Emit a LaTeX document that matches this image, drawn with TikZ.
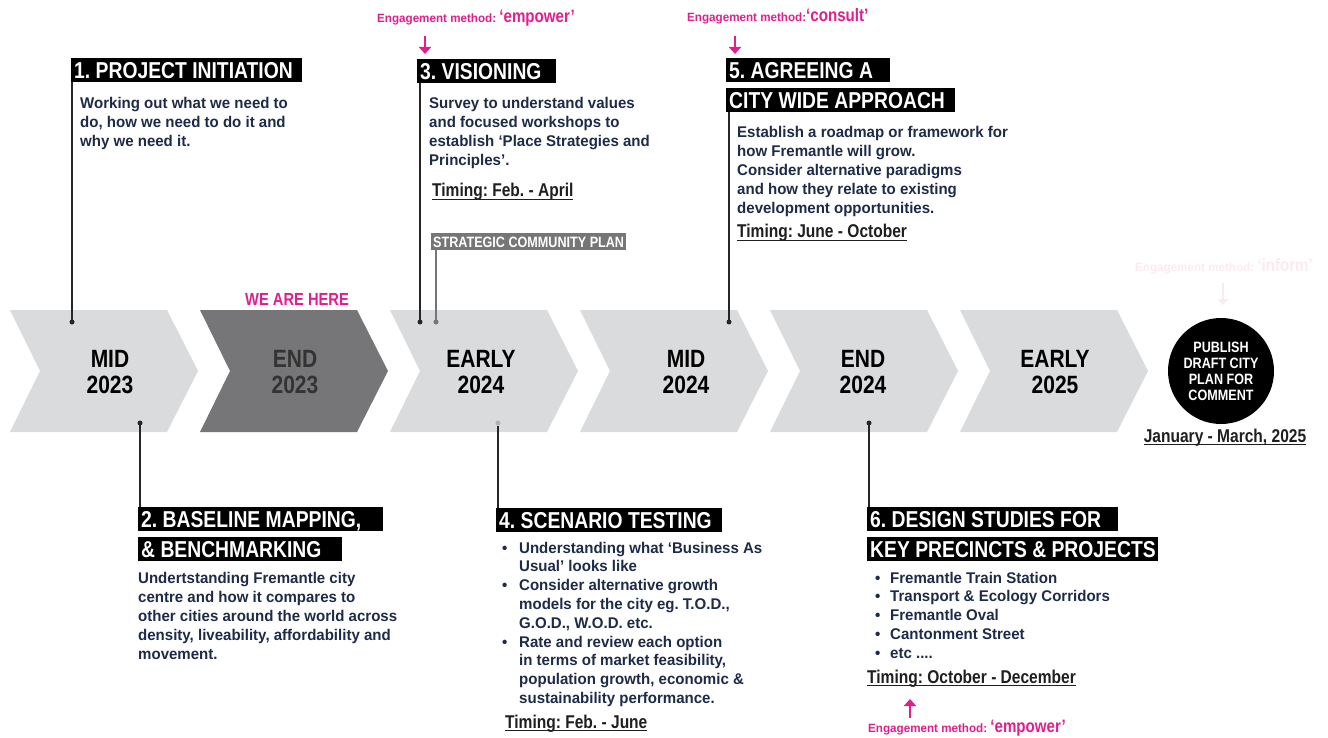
\documentclass[tikz,border=0pt]{standalone}
\usepackage{fontspec}
\setmainfont{Liberation Sans}
\newfontfamily\bodyf{Liberation Sans Bold}[FakeStretch=0.97]
\newfontfamily\condf{Liberation Sans Bold}[FakeStretch=0.84]
\newfontfamily\chevf{Liberation Sans Bold}[FakeStretch=0.84]
\usetikzlibrary{arrows.meta}
\frenchspacing
\definecolor{navy}{RGB}{30,43,72}
\definecolor{pinkc}{RGB}{226,30,140}
\definecolor{pinkfaint}{RGB}{252,234,242}
\definecolor{chevlight}{RGB}{218,219,221}
\definecolor{chevdark}{RGB}{118,118,120}
\definecolor{scpgray}{RGB}{118,118,118}
\newcommand\uline[1]{\setbox0\hbox{#1}\rlap{\rule[-3pt]{\wd0}{1.5pt}}\box0}
\tikzset{
  hdr/.style={fill=black, text=white, font=\condf\fontsize{23}{24}\selectfont,
    inner xsep=3pt, inner ysep=0pt, minimum height=24pt, text height=16.5pt,
    text depth=0pt, anchor=north west},
  body/.style={text=navy, font=\bodyf\fontsize{15.5}{19}\selectfont, inner sep=0pt,
    anchor=north west, align=left},
  blist/.style={text=navy, font=\bodyf\fontsize{15.5}{18.8}\selectfont, inner sep=0pt,
    anchor=north west},
  timing/.style={text=black!88, font=\condf\fontsize{18.5}{20}\selectfont, inner sep=0pt,
    anchor=base west},
  eng/.style={text=pinkc, inner sep=0pt, anchor=base west},
  dotn/.style={circle, fill=black!85, inner sep=0pt, minimum size=5pt},
  conn/.style={line width=1.5pt, draw=black!85},
  parrow/.style={draw=pinkc, line width=2.6pt, -{Triangle[length=7pt,width=12pt]}},
  chevlbl/.style={font=\chevf\fontsize{25}{25.5}\selectfont, align=center, inner sep=0pt, text=black}
}
\newcommand\engtxt[2]{{\bodyf\fontsize{12}{14}\selectfont Engagement method:#1}{\condf\fontsize{18}{20}\selectfont#2}}
\newcommand\hbx[2]{\makebox[#1][l]{#2}}
\begin{document}
\begin{tikzpicture}[x=1pt,y=-1pt]
\useasboundingbox (0,0) rectangle (1328,738);
\fill[white] (0,0) rectangle (1328,738);
% chevrons
\foreach \x/\c in {10/chevlight,200/chevdark,390/chevlight,580/chevlight,770/chevlight,960/chevlight}{
  \fill[\c] (\x,310) -- (\x+157,310) -- (\x+188,371) -- (\x+157,432) -- (\x,432) -- (\x+30,371) -- cycle;
}
\node[chevlbl] (c1) at (110,372) {MID\\2023};
\node[chevlbl, text=black!80] (c2) at (295,372) {END\\2023};
\node[chevlbl] (c3) at (481,372) {EARLY\\2024};
\node[chevlbl] (c4) at (686,372) {MID\\2024};
\node[chevlbl] (c5) at (863,372) {END\\2024};
\node[chevlbl] (c6) at (1055,372) {EARLY\\2025};
\node[text=pinkc, font=\condf\fontsize{17.5}{18}\selectfont, inner sep=0pt, anchor=base] (here) at (297,305) {WE ARE HERE};

% final circle
\node[circle, fill=black, minimum size=106pt, inner sep=0pt, text=white,
  font=\condf\fontsize{15}{16}\selectfont, align=center] (pub) at (1221,371) {PUBLISH\\DRAFT CITY\\PLAN FOR\\COMMENT};
\node[timing, anchor=base] (jan) at (1225,442) {\uline{January - March, 2025}};
\node[inner sep=0pt, anchor=base, text=pinkfaint] (inf) at (1224,272) {\engtxt{ }{‘inform’}};
\coordinate (infa) at (1223,283);
\coordinate (infb) at (1223,305);
\draw[draw=pinkfaint, line width=2pt, -{Triangle[length=6pt,width=10pt]}] (infa) -- (infb);

% section 1
\node[hdr] (h1) at (71,58) {\hbx{225pt}{1. PROJECT INITIATION}};
\node[dotn] (d1) at (72,322) {};
\draw[conn] (h1.south west -| d1) -- (d1.center);
\node[body] (t1) at (80,96.7) {Working out what we need to\\do, how we need to do it and\\why we need it.};

% section 3
\node[eng] (e3) at (377,23) {\engtxt{ }{‘empower’}};
\coordinate (a3s) at (425,36);
\coordinate (a3e) at (425,54);
\draw[parrow] (a3s) -- (a3e);
\node[hdr] (h3) at (417,59) {\hbx{133pt}{3. VISIONING}};
\node[dotn] (d3) at (420,322) {};
\draw[conn] (h3.south west -| d3) -- (d3.center);
\node[body] (t3) at (429,96.7) {Survey to understand values\\and focused workshops to\\establish ‘Place Strategies and\\Principles’.};
\node[timing] (tm3) at (432,197) {\uline{Timing: Feb. - April}};
\node[fill=scpgray, text=white, font=\condf\fontsize{15}{16}\selectfont, inner xsep=2pt, inner ysep=0pt,
  minimum height=17pt, text height=10.7pt, text depth=0pt, anchor=north west] (scp) at (431,233) {STRATEGIC COMMUNITY PLAN};
\node[dotn, fill=scpgray] (d3b) at (436,322) {};
\draw[conn, draw=scpgray] (scp.south west -| d3b) -- (d3b.center);

% section 5
\node[eng] (e5) at (687,22) {\engtxt{}{‘consult’}};
\coordinate (a5s) at (735,36);
\coordinate (a5e) at (735,54);
\draw[parrow] (a5s) -- (a5e);
\node[hdr] (h5a) at (726,58) {\hbx{158pt}{5. AGREEING A}};
\node[hdr] (h5b) at (726,88) {\hbx{223pt}{CITY WIDE APPROACH}};
\node[dotn] (d5) at (729,322) {};
\draw[conn] (h5b.south west -| d5) -- (d5.center);
\node[body] (t5) at (737,125.7) {Establish a roadmap or framework for\\how Fremantle will grow.\\Consider alternative paradigms\\and how they relate to existing\\development opportunities.};
\node[timing] (tm5) at (737,238) {\uline{Timing: June - October}};

% section 2
\node[dotn] (d2) at (140,423) {};
\node[hdr] (h2a) at (138,507) {\hbx{239pt}{2. BASELINE MAPPING,}};
\node[hdr] (h2b) at (138,537) {\hbx{198pt}{\& BENCHMARKING}};
\draw[conn] (d2.center) -- (d2 |- h2a.north);
\node[body] (t2) at (138,571.7) {Undertstanding Fremantle city\\centre and how it compares to\\other cities around the world across\\density, liveability, affordability and\\movement.};

% section 4
\node[dotn, fill=black!30] (d4) at (498,423) {};
\node[hdr] (h4) at (496,508) {\hbx{220pt}{4. SCENARIO TESTING}};
\draw[conn] (d4.south) -- (d4 |- h4.north);
\node[blist] (t4) at (500,539.8) {\begin{tabular}{@{}p{19pt}@{}l@{}}
\hspace{2pt}• & Understanding what ‘Business As\\
 & Usual’ looks like\\
\hspace{2pt}• & Consider alternative growth\\
 & models for the city eg. T.O.D.,\\
 & G.O.D., W.O.D. etc.\\
\hspace{2pt}• & Rate and review each option\\
 & in terms of market feasibility,\\
 & population growth, economic \&\\
 & sustainability performance.
\end{tabular}};
\node[timing] (tm4) at (505,728) {\uline{Timing: Feb. - June}};

% section 6
\node[dotn] (d6) at (869,423) {};
\node[hdr] (h6a) at (867,507) {\hbx{245pt}{6. DESIGN STUDIES FOR}};
\node[hdr] (h6b) at (867,537) {\hbx{285pt}{KEY PRECINCTS \& PROJECTS}};
\draw[conn] (d6.center) -- (d6 |- h6a.north);
\node[blist] (t6) at (873,569.8) {\begin{tabular}{@{}p{17pt}@{}l@{}}
\hspace{2pt}• & Fremantle Train Station\\
\hspace{2pt}• & Transport \& Ecology Corridors\\
\hspace{2pt}• & Fremantle Oval\\
\hspace{2pt}• & Cantonment Street\\
\hspace{2pt}• & etc ....
\end{tabular}};
\node[timing] (tm6) at (867,683) {\uline{Timing: October - December}};
\coordinate (a6s) at (910,718);
\coordinate (a6e) at (910,699);
\draw[parrow] (a6s) -- (a6e);
\node[eng] (e6) at (868,732) {\engtxt{ }{‘empower’}};
\end{tikzpicture}
\end{document}
